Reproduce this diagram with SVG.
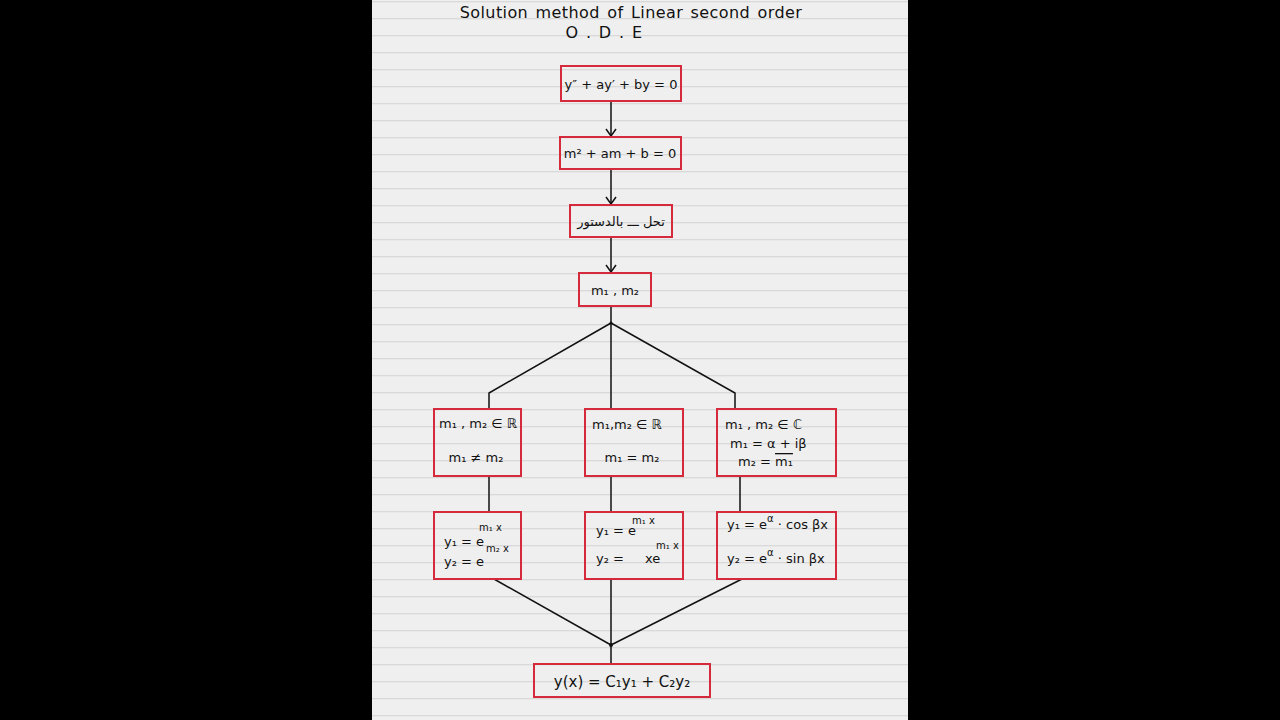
<svg xmlns="http://www.w3.org/2000/svg" width="1280" height="720" viewBox="0 0 1280 720">
<defs>
<pattern id="ruled" x="0" y="0" width="536" height="17" patternUnits="userSpaceOnUse">
<rect width="536" height="17" fill="#efefef"/>
<rect y="1" width="536" height="1.3" fill="#d9d9d9"/>
</pattern>
<marker id="arr" markerWidth="12" markerHeight="12" refX="10" refY="6" orient="auto" markerUnits="userSpaceOnUse">
<path d="M3,1 L10,6 L3,11" fill="none" stroke="#111" stroke-width="1.5"/>
</marker>
<style>
.box{fill:none;stroke:#d42a3c;stroke-width:2}
.t{font-family:"DejaVu Sans","Noto Sans",sans-serif;font-size:13px;fill:#111}
.s{font-size:10px}
.big{font-size:15px}
.ttl{font-family:"DejaVu Sans","Noto Sans",sans-serif;font-size:16px;fill:#111;letter-spacing:0.4px;word-spacing:2px}
.ln{stroke:#111;stroke-width:1.5;fill:none}
</style>
</defs>
<rect width="1280" height="720" fill="#000"/>
<rect x="372" y="0" width="536" height="720" fill="url(#ruled)"/>

<g id="title">
<text class="ttl" x="631" y="18" text-anchor="middle">Solution method of  Linear second order</text>
<text class="ttl" x="604" y="38" text-anchor="middle" word-spacing="0">O . D . E</text>
</g>

<g id="connectors">
<line class="ln" x1="611" y1="101" x2="611" y2="136" marker-end="url(#arr)"/>
<line class="ln" x1="611" y1="169" x2="611" y2="204" marker-end="url(#arr)"/>
<line class="ln" x1="611" y1="237" x2="611" y2="272" marker-end="url(#arr)"/>
<polyline class="ln" points="611,306 611,323"/>
<polyline class="ln" points="611,323 489,393 489,409"/>
<polyline class="ln" points="611,323 611,409"/>
<polyline class="ln" points="611,323 735,393 735,409"/>
<line class="ln" x1="489" y1="476" x2="489" y2="512"/>
<line class="ln" x1="611" y1="476" x2="611" y2="512"/>
<line class="ln" x1="740" y1="476" x2="740" y2="512"/>
<line class="ln" x1="494" y1="579" x2="611" y2="645"/>
<line class="ln" x1="611" y1="579" x2="611" y2="645"/>
<line class="ln" x1="742" y1="579" x2="611" y2="645"/>
<line class="ln" x1="611" y1="645" x2="611" y2="664"/>
<circle cx="611" cy="645" r="2" fill="#111"/>
<circle cx="611" cy="323" r="1.5" fill="#111"/>
</g>

<g id="n1">
<rect class="box" x="561" y="66" width="120" height="35"/>
<text class="t" x="621" y="89" text-anchor="middle">y″ + ay′ + by = 0</text>
</g>
<g id="n2">
<rect class="box" x="560" y="137" width="121" height="32"/>
<text class="t" x="620" y="158" text-anchor="middle">m² + am + b = 0</text>
</g>
<g id="n3">
<rect class="box" x="570" y="205" width="102" height="32"/>
<text class="t" x="621" y="226" text-anchor="middle" direction="rtl">تحل ـــ بالدستور</text>
</g>
<g id="n4">
<rect class="box" x="579" y="273" width="72" height="33"/>
<text class="t" x="615" y="295" text-anchor="middle">m₁ , m₂</text>
</g>

<g id="n5">
<rect class="box" x="434" y="409" width="87" height="67"/>
<text class="t" x="478" y="428" text-anchor="middle">m₁ , m₂ ∈ ℝ</text>
<text class="t" x="476" y="462" text-anchor="middle">m₁ ≠ m₂</text>
</g>
<g id="n6">
<rect class="box" x="585" y="409" width="98" height="67"/>
<text class="t" x="592" y="429">m₁,m₂ ∈ ℝ</text>
<text class="t" x="632" y="462" text-anchor="middle">m₁ = m₂</text>
</g>
<g id="n7">
<rect class="box" x="717" y="409" width="119" height="67"/>
<text class="t" x="725" y="429">m₁ , m₂ ∈ ℂ</text>
<text class="t" x="730" y="448" font-size="12">m₁ = α + iβ</text>
<text class="t" x="738" y="466" font-size="12">m₂ = <tspan text-decoration="overline">m₁</tspan></text>
</g>

<g id="n8">
<rect class="box" x="434" y="512" width="87" height="67"/>
<text class="t" x="444" y="546">y₁ = e</text>
<text class="t s" x="479" y="531">m₁ x</text>
<text class="t" x="444" y="566">y₂ = e</text>
<text class="t s" x="486" y="552">m₂ x</text>
</g>
<g id="n9">
<rect class="box" x="585" y="512" width="98" height="67"/>
<text class="t" x="596" y="535">y₁ = e</text>
<text class="t s" x="632" y="524">m₁ x</text>
<text class="t" x="596" y="563">y₂ =</text>
<text class="t" x="645" y="563">xe</text>
<text class="t s" x="656" y="549">m₁ x</text>
</g>
<g id="n10">
<rect class="box" x="717" y="512" width="119" height="67"/>
<text class="t" x="727" y="529" font-size="12">y₁ = e<tspan class="s" dy="-7">α</tspan><tspan dy="7"> · cos βx</tspan></text>
<text class="t" x="727" y="563" font-size="12">y₂ = e<tspan class="s" dy="-7">α</tspan><tspan dy="7"> · sin βx</tspan></text>
</g>

<g id="n11">
<rect class="box" x="534" y="664" width="176" height="33"/>
<text class="t big" x="622" y="687" text-anchor="middle">y(x) = C₁y₁ + C₂y₂</text>
</g>
</svg>
